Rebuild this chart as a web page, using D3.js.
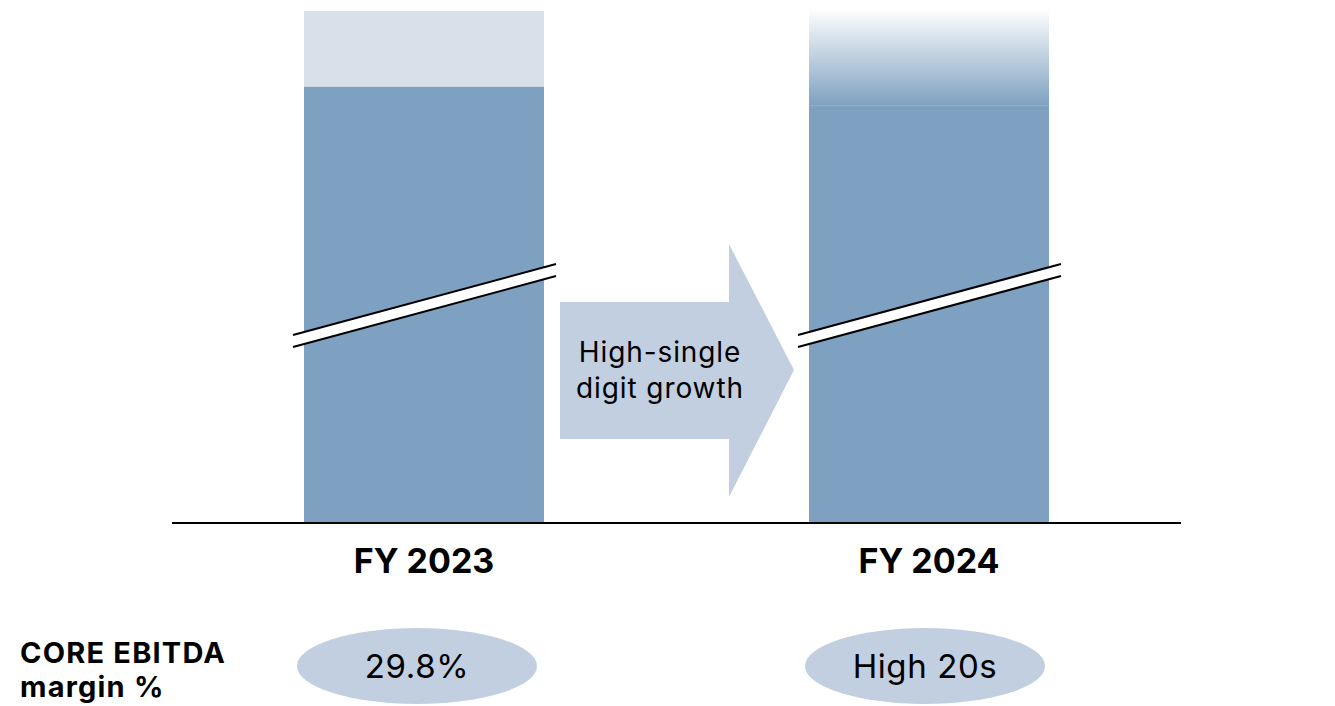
<!DOCTYPE html>
<html>
<head>
<meta charset="utf-8">
<script src="https://cdn.jsdelivr.net/npm/d3@7"></script>
<style>
  html, body { margin: 0; padding: 0; background: #fff; }
  svg { display: block; font-family: Inter, "Noto Sans", sans-serif; }
</style>
</head>
<body>
<svg id="chart" width="1335" height="706"></svg>
<script>
// Fiscal years shown on the axis
const categories = ["FY 2023", "FY 2024"];
// Solid part of each bar (index scale, axis is broken)
const baseValues = [85.2, 81.6];
// Top of each bar: actual cap for FY 2023, faded outlook range for FY 2024
const topValues = [100, 100.6];
// How the top segment is drawn
const topStyles = ["solid", "fade"];
// Core EBITDA margin per year
const marginLabels = ["29.8%", "High 20s"];
// Growth message on the arrow
const arrowLines = ["High-single", "digit growth"];

const svg = d3.select("#chart");

const x = d3.scaleBand()
  .domain(categories)
  .range([172, 1181])
  .paddingInner(0.5248)
  .paddingOuter(0.2614);

// Margin badges sit slightly left of the bar centres
const xm = d3.scalePoint().domain(categories).range([417, 925]);

const y = d3.scaleLinear().domain([0, 100]).range([523, 11]);

const DARK = "#7fa1c1";
const LIGHT = "#d8e1ea";
const PALE = "#c2cfe1";

// Vertical fade for the outlook segment
const defs = svg.append("defs");
const grad = defs.append("linearGradient")
  .attr("id", "fade").attr("x1", 0).attr("y1", 0).attr("x2", 0).attr("y2", 1);
grad.append("stop").attr("offset", "0%").attr("stop-color", "#ffffff");
grad.append("stop").attr("offset", "100%").attr("stop-color", DARK);

const rows = categories.map((c, i) => ({
  cat: c, base: baseValues[i], top: topValues[i], style: topStyles[i], margin: marginLabels[i]
}));

// Upper segments
svg.append("g").selectAll("rect").data(rows).join("rect")
  .attr("x", d => x(d.cat))
  .attr("width", x.bandwidth())
  .attr("y", d => y(d.top))
  .attr("height", d => y(d.base) - y(d.top))
  .attr("fill", d => d.style === "fade" ? "url(#fade)" : LIGHT);

// Base segments
svg.append("g").selectAll("rect").data(rows).join("rect")
  .attr("x", d => x(d.cat))
  .attr("width", x.bandwidth())
  .attr("y", d => y(d.base))
  .attr("height", d => y(0) - y(d.base))
  .attr("fill", DARK);

// Axis-break marks across each bar
const breakG = svg.append("g");
rows.forEach(d => {
  const x0 = x(d.cat) - 11, x1 = x(d.cat) + x.bandwidth() + 12;
  const yl = 335, yr = 264, gap = 12;
  breakG.append("path")
    .attr("d", `M${x0},${yl}L${x1},${yr}L${x1},${yr + gap}L${x0},${yl + gap}Z`)
    .attr("fill", "#fff");
  [0, gap].forEach(o => breakG.append("line")
    .attr("x1", x0).attr("y1", yl + o).attr("x2", x1).attr("y2", yr + o)
    .attr("stroke", "#000").attr("stroke-width", 2));
});

// Baseline
svg.append("line")
  .attr("x1", 172).attr("x2", 1181).attr("y1", y(0)).attr("y2", y(0))
  .attr("stroke", "#000").attr("stroke-width", 2);

// Year labels
svg.append("g").selectAll("text").data(rows).join("text")
  .attr("x", d => x(d.cat) + x.bandwidth() / 2)
  .attr("y", 573)
  .attr("text-anchor", "middle")
  .attr("font-size", 34).attr("font-weight", 700).attr("fill", "#000")
  .text(d => d.cat);

// Growth arrow between the bars
const arrow = d3.path();
arrow.moveTo(560, 302); arrow.lineTo(729, 302); arrow.lineTo(729, 244);
arrow.lineTo(794, 370); arrow.lineTo(729, 497); arrow.lineTo(729, 439);
arrow.lineTo(560, 439); arrow.closePath();
svg.append("path").attr("d", arrow.toString()).attr("fill", PALE);

svg.append("g").selectAll("text").data(arrowLines).join("text")
  .attr("x", 660)
  .attr("y", (d, i) => 362 + i * 36)
  .attr("text-anchor", "middle")
  .attr("font-size", 28).attr("letter-spacing", 0.9).attr("fill", "#000")
  .text(d => d);

// Margin row
svg.append("text").attr("x", 20).attr("y", 663)
  .attr("font-size", 29).attr("font-weight", 700).attr("letter-spacing", 1.2).attr("fill", "#000")
  .text("CORE EBITDA");
svg.append("text").attr("x", 20).attr("y", 697)
  .attr("font-size", 29).attr("font-weight", 700).attr("letter-spacing", 1.2).attr("fill", "#000")
  .text("margin %");

svg.append("g").selectAll("ellipse").data(rows).join("ellipse")
  .attr("cx", d => xm(d.cat)).attr("cy", 666).attr("rx", 120).attr("ry", 38)
  .attr("fill", PALE);
svg.append("g").selectAll("text").data(rows).join("text")
  .attr("x", d => xm(d.cat)).attr("y", 678)
  .attr("text-anchor", "middle")
  .attr("font-size", 33).attr("letter-spacing", 0.6).attr("fill", "#000")
  .text(d => d.margin);
</script>
</body>
</html>
